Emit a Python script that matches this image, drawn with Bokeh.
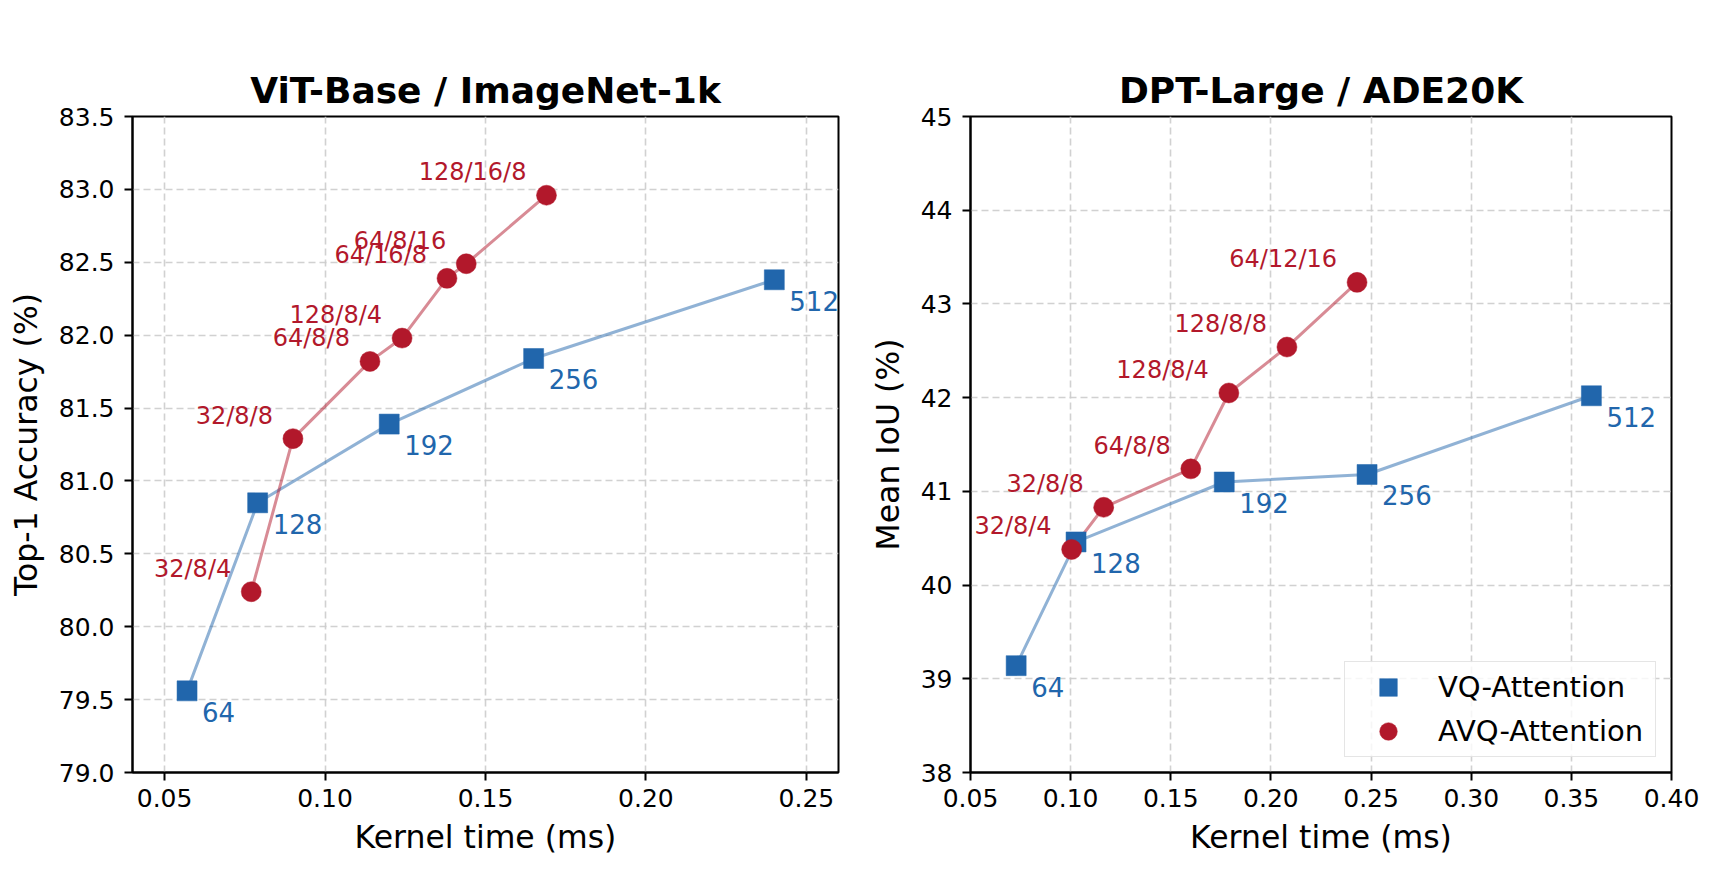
from bokeh.plotting import figure
from bokeh.layouts import row
from bokeh.models import (ColumnDataSource, Range1d, FixedTicker,
                          NumeralTickFormatter, Legend, LegendItem)
from bokeh.core.properties import value
from bokeh.embed import file_html
from bokeh.resources import INLINE

BLUE = "#2166ac"
RED = "#b2182b"
FONT = "DejaVu Sans"

# ---- ViT-Base / ImageNet-1k -------------------------------------------
vit_vq_time = [0.057, 0.079, 0.120, 0.165, 0.240]
vit_vq_acc = [79.56, 80.85, 81.39, 81.84, 82.38]
vit_vq_labels = ["64", "128", "192", "256", "512"]

vit_avq_time = [0.077, 0.090, 0.114, 0.124, 0.138, 0.144, 0.169]
vit_avq_acc = [80.24, 81.29, 81.82, 81.98, 82.39, 82.49, 82.96]
vit_avq_labels = ["32/8/4", "32/8/8", "64/8/8", "128/8/4",
                  "64/16/8", "64/8/16", "128/16/8"]

vit_xticks = [0.05, 0.10, 0.15, 0.20, 0.25]
vit_yticks = [79.0, 79.5, 80.0, 80.5, 81.0, 81.5, 82.0, 82.5, 83.0, 83.5]

# ---- DPT-Large / ADE20K -----------------------------------------------
dpt_vq_time = [0.0728, 0.1027, 0.1767, 0.248, 0.360]
dpt_vq_miou = [39.14, 40.46, 41.10, 41.18, 42.02]
dpt_vq_labels = ["64", "128", "192", "256", "512"]

dpt_avq_time = [0.1005, 0.1165, 0.160, 0.179, 0.208, 0.243]
dpt_avq_miou = [40.38, 40.83, 41.24, 42.05, 42.54, 43.23]
dpt_avq_labels = ["32/8/4", "32/8/8", "64/8/8", "128/8/4",
                  "128/8/8", "64/12/16"]

dpt_xticks = [0.05, 0.10, 0.15, 0.20, 0.25, 0.30, 0.35, 0.40]
dpt_yticks = [38, 39, 40, 41, 42, 43, 44, 45]


def panel(title, ylabel, xr, yr, xticks, yticks, yfmt,
          vq, avq, width, border_left, border_right, with_legend=False):
    p = figure(width=width, height=869, title=title,
               x_range=Range1d(*xr), y_range=Range1d(*yr),
               output_backend="svg", toolbar_location=None,
               min_border_left=border_left, min_border_right=border_right,
               min_border_top=116, min_border_bottom=97)

    p.title.text_font = FONT
    p.title.text_font_size = "36px"
    p.title.text_font_style = "bold"
    p.title.text_color = "black"
    p.title.align = "center"
    p.title.standoff = 11

    p.outline_line_color = "black"
    p.outline_line_width = 2
    p.outline_line_alpha = 1

    for ax in (p.xaxis[0], p.yaxis[0]):
        ax.axis_line_width = 2
        ax.major_tick_line_width = 2
        ax.major_tick_out = 8
        ax.major_tick_in = 0
        ax.minor_tick_line_color = None
        ax.major_label_text_font = FONT
        ax.major_label_text_font_size = "25px"
        ax.major_label_text_color = "black"
        ax.axis_label_text_font = FONT
        ax.axis_label_text_font_size = "31.5px"
        ax.axis_label_text_font_style = "normal"
        ax.axis_label_text_color = "black"

    p.xaxis.axis_label = "Kernel time (ms)"
    p.yaxis.axis_label = ylabel
    p.xaxis.ticker = FixedTicker(ticks=xticks)
    p.yaxis.ticker = FixedTicker(ticks=yticks)
    p.xaxis.formatter = NumeralTickFormatter(format="0.00")
    p.yaxis.formatter = NumeralTickFormatter(format=yfmt)
    p.xaxis.major_label_standoff = 8
    p.yaxis.major_label_standoff = 10
    p.xaxis.axis_label_standoff = 9
    p.yaxis.axis_label_standoff = 12

    p.grid.grid_line_color = "#cccccc"
    p.grid.grid_line_width = 1.6
    p.grid.grid_line_dash = "7 4"
    p.grid.grid_line_alpha = 0.9

    vq_src = ColumnDataSource(dict(t=vq[0], v=vq[1], lab=vq[2]))
    avq_src = ColumnDataSource(dict(t=avq[0], v=avq[1], lab=avq[2]))

    p.line("t", "v", source=vq_src, line_color=BLUE, line_alpha=0.5, line_width=3)
    p.line("t", "v", source=avq_src, line_color=RED, line_alpha=0.5, line_width=3)
    r_vq = p.scatter("t", "v", source=vq_src, marker="square", size=20,
                     fill_color=BLUE, line_color=BLUE, line_width=0.5)
    r_avq = p.scatter("t", "v", source=avq_src, marker="circle", size=20,
                      fill_color=RED, line_color=RED, line_width=0.5)

    p.text("t", "v", text="lab", source=vq_src, text_color=BLUE,
           text_font=value(FONT), text_font_size="26px",
           text_align="left", text_baseline="middle",
           x_offset=15, y_offset=21)
    p.text("t", "v", text="lab", source=avq_src, text_color=RED,
           text_font=value(FONT), text_font_size="24px",
           text_align="right", text_baseline="middle",
           x_offset=-20, y_offset=-23)

    if with_legend:
        legend = Legend(items=[LegendItem(label="VQ-Attention", renderers=[r_vq]),
                               LegendItem(label="AVQ-Attention", renderers=[r_avq])],
                        location="bottom_right")
        legend.label_text_font = FONT
        legend.label_text_font_size = "29px"
        legend.label_text_color = "black"
        legend.border_line_color = "#cccccc"
        legend.border_line_width = 1.5
        legend.background_fill_alpha = 0.8
        legend.glyph_height = 44
        legend.glyph_width = 80
        legend.label_height = 44
        legend.label_width = 214
        legend.spacing = 0
        legend.padding = 3
        legend.margin = 15
        legend.label_standoff = 10
        p.add_layout(legend)
    return p


left = panel("ViT-Base / ImageNet-1k", "Top-1 Accuracy (%)",
             (0.04, 0.26), (79.0, 83.5), vit_xticks, vit_yticks, "0.0",
             (vit_vq_time, vit_vq_acc, vit_vq_labels),
             (vit_avq_time, vit_avq_acc, vit_avq_labels),
             width=866, border_left=132, border_right=28)

right = panel("DPT-Large / ADE20K", "Mean IoU (%)",
              (0.05, 0.40), (38, 45), dpt_xticks, dpt_yticks, "0",
              (dpt_vq_time, dpt_vq_miou, dpt_vq_labels),
              (dpt_avq_time, dpt_avq_miou, dpt_avq_labels),
              width=867, border_left=99, border_right=62, with_legend=True)

layout = row(left, right)
open("out.html", "w").write(file_html(layout, INLINE))
